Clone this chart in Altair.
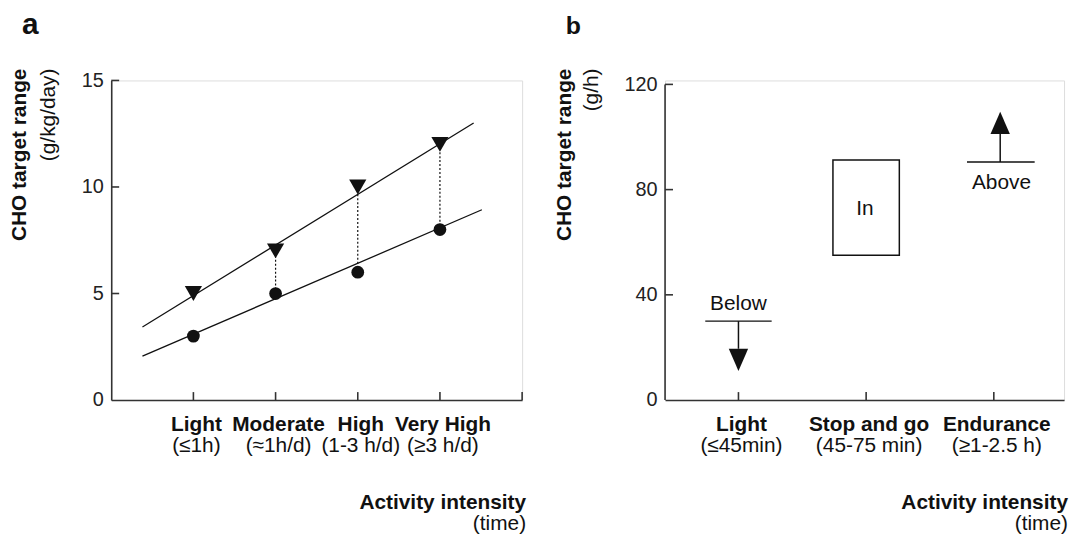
import altair as alt
import pandas as pd

FONT = "Liberation Sans"
INK = "#111111"
AXC = "#333333"

# ---------------- Panel a data ----------------
cats_a = [1, 2, 3, 4]
names_a = ["Light", "Moderate", "High", "Very High"]
times_a = ["(≤1h)", "(≈1h/d)", "(1-3 h/d)", "(≥3 h/d)"]
upper_a = [5, 7, 10, 12]
lower_a = [3, 5, 6, 8]
dot_x = [2, 3, 4]
dot_lo = [5, 6.4, 8]
dot_hi = [7, 10, 12]
fit_upper_x = [0.38, 4.41]
fit_upper_y = [3.43, 13.0]
fit_lower_x = [0.38, 4.51]
fit_lower_y = [2.06, 8.93]
yticks_a = [0, 5, 10, 15]
xticks_a = [1, 2, 3, 4, 5]

# ---------------- Panel b data ----------------
cats_b = [1, 2, 3]
names_b = ["Light", "Stop and go", "Endurance"]
times_b = ["(≤45min)", "(45-75 min)", "(≥1-2.5 h)"]
bar_x1 = [0.74, 2.79]
bar_x2 = [1.26, 3.32]
bar_y = [30, 90.5]
arrow_x = [1.0, 3.05]
arrow_from = [30, 90.5]
arrow_to = [19.5, 101.2]
head_y = [15.3, 105.4]
box_x1, box_x2, box_y1, box_y2 = [1.74], [2.26], [55], [91.3]
note_text = ["Below", "In", "Above"]
note_x = [1.0, 1.99, 3.06]
note_y = [36.6, 72.8, 82.4]
yticks_b = [0, 40, 80, 120]
xticks_b = [1, 2, 3]

W_A, W_B, H = 414, 402, 322
FS = 21


def xenc(domain):
    return alt.X("x:Q", scale=alt.Scale(domain=domain, nice=False, zero=False),
                 axis=alt.Axis(ticks=False, labels=False, title=None, grid=False,
                               domainColor=AXC, domainWidth=1.6))


def yenc(domain, values, show_domain):
    return alt.Y("y:Q", scale=alt.Scale(domain=domain, nice=False, zero=False),
                 axis=alt.Axis(values=values, ticks=False, tickSize=0, labelPadding=8,
                               labelFont=FONT, labelFontSize=20, labelColor="#222222",
                               title=None, grid=False, domain=show_domain,
                               domainColor=AXC, domainWidth=1.6))


def panel(xdom, ydom, yvals, show_domain, xticks, yticks_in, w, names, times, cats,
          title1, title2, t1x, t2x, ty, letter, lsize, lx, ly):
    X = xenc(xdom)
    Y = yenc(ydom, yvals, show_domain)
    anchor = alt.Chart(pd.DataFrame({"t": [0]})).mark_rule(opacity=0, strokeWidth=1).encode(
        x=alt.value(0), x2=alt.value(1), y=alt.value(-72), y2=alt.value(-72))
    xt = alt.Chart(pd.DataFrame({"x": xticks})).mark_rule(color=AXC, strokeWidth=1.6).encode(
        x=X, y=alt.value(H), y2=alt.value(H - 8))
    yt = alt.Chart(pd.DataFrame({"y": yticks_in})).mark_rule(color=AXC, strokeWidth=1.6).encode(
        y=Y, x=alt.value(0), x2=alt.value(8))
    lab = pd.DataFrame({"x": cats, "name": names, "time": times})
    l1 = alt.Chart(lab).mark_text(font=FONT, fontSize=FS, fontWeight="bold", color=INK,
                                  baseline="alphabetic", dx=3).encode(
        x=X, y=alt.value(H + 31), text="name:N")
    l2 = alt.Chart(lab).mark_text(font=FONT, fontSize=FS, color=INK,
                                  baseline="alphabetic", dx=3).encode(
        x=X, y=alt.value(H + 52), text="time:N")
    ai = alt.Chart(pd.DataFrame({"t": ["Activity intensity"]})).mark_text(
        font=FONT, fontSize=FS, fontWeight="bold", color=INK, align="right",
        baseline="alphabetic").encode(x=alt.value(w + 4), y=alt.value(H + 110), text="t:N")
    tm = alt.Chart(pd.DataFrame({"t": ["(time)"]})).mark_text(
        font=FONT, fontSize=FS, color=INK, align="right",
        baseline="alphabetic").encode(x=alt.value(w + 4), y=alt.value(H + 131), text="t:N")
    ty1 = alt.Chart(pd.DataFrame({"t": [title1]})).mark_text(
        font=FONT, fontSize=FS, fontWeight="bold", color=INK, angle=270, align="right",
        baseline="middle").encode(x=alt.value(t1x), y=alt.value(ty), text="t:N")
    ty2 = alt.Chart(pd.DataFrame({"t": [title2]})).mark_text(
        font=FONT, fontSize=FS, color=INK, angle=270, align="right",
        baseline="middle").encode(x=alt.value(t2x), y=alt.value(ty), text="t:N")
    let = alt.Chart(pd.DataFrame({"t": [letter]})).mark_text(
        font=FONT, fontSize=lsize, fontWeight="bold", color=INK, align="left",
        baseline="alphabetic").encode(x=alt.value(lx), y=alt.value(ly), text="t:N")
    return X, Y, [anchor, xt, yt, l1, l2, ai, tm, ty1, ty2, let]


# ---------------- Panel a ----------------
Xa, Ya, deco_a = panel([0, 5], [0, 15], [0, 5, 10, 15], True, xticks_a, yticks_a[1:], W_A,
                       names_a, times_a, cats_a, "CHO target range", "(g/kg/day)",
                       -91.5, -62.5, -12, "a", 30, -90, -47)

fit_df = pd.DataFrame({
    "x": fit_upper_x + fit_lower_x,
    "y": fit_upper_y + fit_lower_y,
    "g": ["upper"] * len(fit_upper_x) + ["lower"] * len(fit_lower_x),
})
fits = alt.Chart(fit_df).mark_line(color=INK, strokeWidth=1.3).encode(
    x=Xa, y=Ya, detail="g:N")
dots = alt.Chart(pd.DataFrame({"x": dot_x, "y": dot_lo, "y2": dot_hi})).mark_rule(
    color=INK, strokeWidth=1.2, strokeDash=[2, 2]).encode(x=Xa, y=Ya, y2="y2:Q")
tri = alt.Chart(pd.DataFrame({"x": cats_a, "y": upper_a})).mark_point(
    shape="triangle-down", filled=True, color=INK, size=300, opacity=1).encode(x=Xa, y=Ya)
circ = alt.Chart(pd.DataFrame({"x": cats_a, "y": lower_a})).mark_point(
    shape="circle", filled=True, color=INK, size=165, opacity=1).encode(x=Xa, y=Ya)

panel_a = alt.layer(fits, dots, tri, circ, *deco_a).properties(width=W_A, height=H)

# ---------------- Panel b ----------------
Xb, Yb, deco_b = panel([0.425, 3.55], [0, 121.5], [0, 40, 80, 120], False, xticks_b,
                       yticks_b[1:], W_B, names_b, times_b, cats_b,
                       "CHO target range", "(g/h)", -100.7, -73.7, -12, "b", 25, -100, -47)

yline = alt.Chart(pd.DataFrame({"y": [yticks_b[0]], "y2": [yticks_b[-1]]})).mark_rule(
    color=AXC, strokeWidth=1.6).encode(x=alt.value(0), y=Yb, y2="y2:Q")
bars = alt.Chart(pd.DataFrame({"x": bar_x1, "x2": bar_x2, "y": bar_y})).mark_rule(
    color=INK, strokeWidth=1.5).encode(x=Xb, x2="x2:Q", y=Yb)
shafts = alt.Chart(pd.DataFrame({"x": arrow_x, "y": arrow_from, "y2": arrow_to})).mark_rule(
    color=INK, strokeWidth=1.5).encode(x=Xb, y=Yb, y2="y2:Q")
head_down = alt.Chart(pd.DataFrame({"x": arrow_x[:1], "y": head_y[:1]})).mark_point(
    shape="M-1,-1.15L1,-1.15L0,1.15Z", filled=True, color=INK, size=380, opacity=1).encode(
    x=Xb, y=Yb)
head_up = alt.Chart(pd.DataFrame({"x": arrow_x[1:], "y": head_y[1:]})).mark_point(
    shape="M-1,1.15L1,1.15L0,-1.15Z", filled=True, color=INK, size=380, opacity=1).encode(
    x=Xb, y=Yb)
box = alt.Chart(pd.DataFrame({"x": box_x1, "x2": box_x2, "y": box_y1, "y2": box_y2})).mark_rect(
    fill="white", stroke=INK, strokeWidth=1.5).encode(x=Xb, x2="x2:Q", y=Yb, y2="y2:Q")
notes = alt.Chart(pd.DataFrame({"x": note_x, "y": note_y, "t": note_text})).mark_text(
    font=FONT, fontSize=FS, color=INK, baseline="middle").encode(x=Xb, y=Yb, text="t:N")

panel_b = alt.layer(yline, bars, shafts, head_down, head_up, box, notes, *deco_b).properties(
    width=W_B, height=H)

chart = alt.hconcat(panel_a, panel_b, spacing=26).properties(
    padding={"left": 1, "top": -2, "right": 0, "bottom": 0}
).configure_view(stroke=None).configure(background="white")

chart.save("out.html", embed_options={"renderer": "svg", "actions": False})
